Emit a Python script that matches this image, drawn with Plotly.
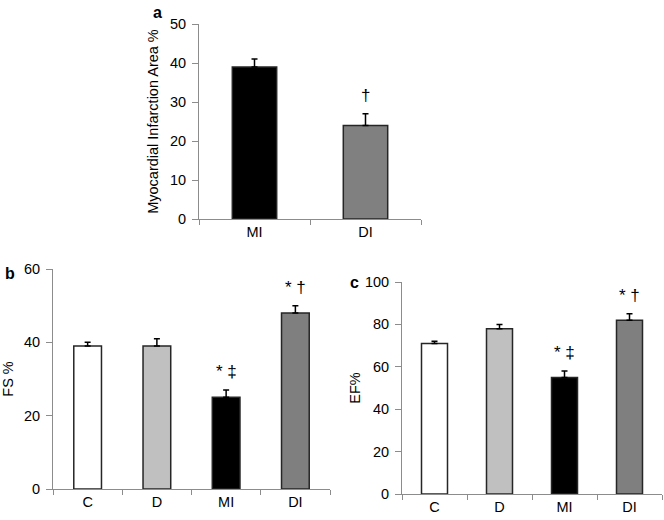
import plotly.graph_objects as go

W, H = 664, 520

# Panel a
a_cats = ["MI", "DI"]
a_vals = [39, 24]
a_err = [2, 3]
a_marks = ["", "†"]
a_colors = ["#000000", "#808080"]

# Panel b
b_cats = ["C", "D", "MI", "DI"]
b_vals = [39, 39, 25, 48]
b_err = [1, 2, 2, 2]
b_marks = ["", "", "* ‡", "* †"]

# Panel c
c_cats = ["C", "D", "MI", "DI"]
c_vals = [71, 78, 55, 82]
c_err = [1, 2, 3, 3]
c_marks = ["", "", "* ‡", "* †"]

bc_colors = ["#ffffff", "#c0c0c0", "#000000", "#7f7f7f"]

FONT = "Liberation Sans, Arial, sans-serif"
AXC = "#8c8c8c"


def px_x(p):
    return p / W


def px_y(p):
    return 1 - p / H


fig = go.Figure()


def add_panel(cats, vals, err, colors, marks, xa, ya):
    fig.add_trace(go.Bar(
        x=cats, y=vals, xaxis=xa, yaxis=ya,
        marker=dict(color=colors, line=dict(color="#262626", width=1.5)),
        width=0.4,
        error_y=dict(type="data", array=err, arrayminus=[0] * len(err),
                     symmetric=False, color="#000000", thickness=1.5, width=3),
        showlegend=False, hoverinfo="skip",
    ))
    for c, v, e, m in zip(cats, vals, err, marks):
        if m:
            fig.add_annotation(x=c, y=v + e, xref=xa, yref=ya, text=m,
                               showarrow=False, yanchor="bottom", yshift=7,
                               font=dict(family=FONT, size=17, color="#000"))


add_panel(a_cats, a_vals, a_err, a_colors, a_marks, "x", "y")
add_panel(b_cats, b_vals, b_err, bc_colors, b_marks, "x2", "y2")
add_panel(c_cats, c_vals, c_err, bc_colors, c_marks, "x3", "y3")

xcommon = dict(showline=True, linecolor=AXC, linewidth=1, ticks="outside",
               tickson="boundaries", ticklen=5, tickcolor=AXC,
               showgrid=False, zeroline=False, automargin=False,
               tickfont=dict(family=FONT, size=14.5, color="#000"))
ycommon = dict(showline=True, linecolor=AXC, linewidth=1, ticks="outside",
               ticklen=6, tickcolor=AXC, showgrid=False, zeroline=False,
               ticklabelstandoff=3, automargin=False,
               tickfont=dict(family=FONT, size=14.5, color="#000"),
               title_font=dict(family=FONT, size=14.5, color="#000"))

fig.update_layout(
    width=W, height=H, margin=dict(l=0, r=0, t=0, b=0),
    paper_bgcolor="white", plot_bgcolor="white", bargap=0.6,
    xaxis=dict(domain=[px_x(199), px_x(421)], anchor="y", **xcommon),
    yaxis=dict(domain=[px_y(219), px_y(24)], anchor="x", range=[0, 50],
               dtick=10, title=dict(text="Myocardial Infarction Area %", standoff=7),
               **ycommon),
    xaxis2=dict(domain=[px_x(53), px_x(330)], anchor="y2", **xcommon),
    yaxis2=dict(domain=[px_y(489), px_y(269)], anchor="x2", range=[0, 60],
                dtick=20, title=dict(text="FS %", standoff=14), **ycommon),
    xaxis3=dict(domain=[px_x(402), px_x(662)], anchor="y3", **xcommon),
    yaxis3=dict(domain=[px_y(494), px_y(282)], anchor="x3", range=[0, 100],
                dtick=20, title=dict(text="EF%", standoff=0), **ycommon),
)

for txt, x, y in [("a", 157, 12), ("b", 10, 273), ("c", 354, 282)]:
    fig.add_annotation(text="<b>%s</b>" % txt, x=px_x(x), y=px_y(y), xref="paper",
                       yref="paper", showarrow=False, xanchor="center", yanchor="middle",
                       font=dict(family=FONT, size=16, color="#000"))

# remove the browser's default 8px body margin so the figure fills the window
fig.write_html("out.html",
               config={"displayModeBar": False},
               post_script="document.body.style.margin='0';"
                           "document.body.style.overflow='hidden';")
